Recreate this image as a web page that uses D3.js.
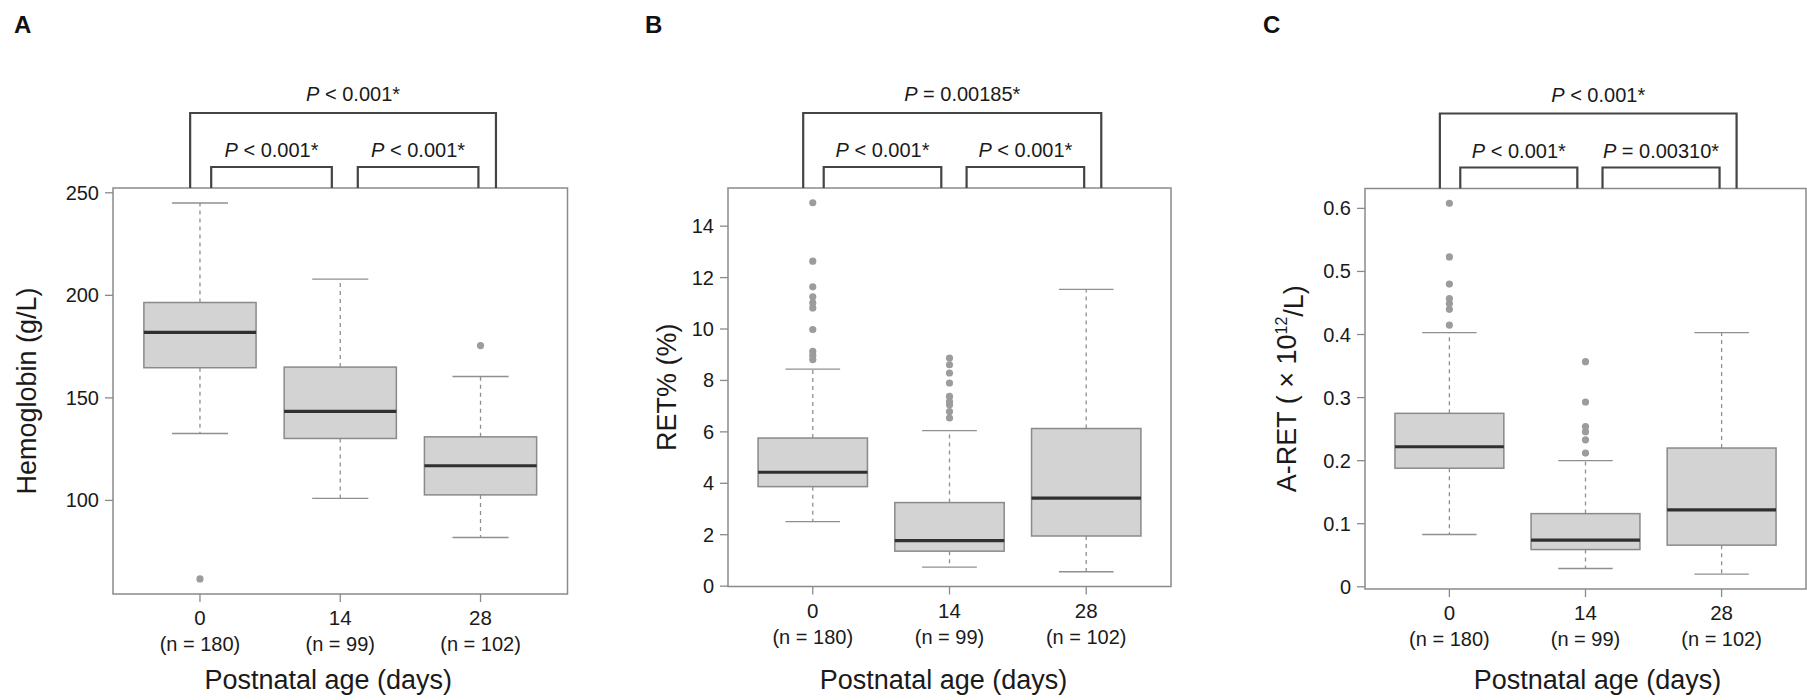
<!DOCTYPE html>
<html><head><meta charset="utf-8">
<script src="https://cdn.jsdelivr.net/npm/d3@7"></script>
<style>
body{margin:0;background:#fff}
text{font-family:"Liberation Sans",Arial,Helvetica,sans-serif;fill:#1a1a1a}
</style>
</head><body>
<svg id="chart" width="1807" height="700"></svg>
<script>
// ---------- data ----------
const categories = ["0", "14", "28"];
const nLabels = ["(n = 180)", "(n = 99)", "(n = 102)"];
const xTitle = "Postnatal age (days)";

// Panel A: Hemoglobin (g/L)
const hbWhiskerLow  = [132.6, 101.0, 81.9];
const hbQ1          = [164.7, 130.2, 102.7];
const hbMedian      = [181.9, 143.4, 116.9];
const hbQ3          = [196.5, 165.0, 131.0];
const hbWhiskerHigh = [245.0, 207.9, 160.4];
const hbOutliers    = [[61.7], [], [175.5]];
const hbTicks       = [100, 150, 200, 250];
const hbTickLabels  = ["100", "150", "200", "250"];
const hbPValues     = ["< 0.001*", "< 0.001*", "< 0.001*"]; // 0-14, 14-28, 0-28

// Panel B: RET% (%)
const retWhiskerLow  = [2.51, 0.74, 0.56];
const retQ1          = [3.87, 1.36, 1.95];
const retMedian      = [4.43, 1.77, 3.42];
const retQ3          = [5.76, 3.25, 6.13];
const retWhiskerHigh = [8.44, 6.05, 11.54];
const retOutliers    = [[14.91, 12.64, 11.64, 11.25, 11.02, 10.82, 9.98, 9.13, 8.97, 8.81],
                        [8.87, 8.61, 8.29, 7.90, 7.38, 7.18, 7.05, 6.79, 6.54],
                        []];
const retTicks       = [0, 2, 4, 6, 8, 10, 12, 14];
const retTickLabels  = ["0", "2", "4", "6", "8", "10", "12", "14"];
const retPValues     = ["< 0.001*", "< 0.001*", "= 0.00185*"];

// Panel C: A-RET (x10^12/L)
const aretWhiskerLow  = [0.083, 0.029, 0.020];
const aretQ1          = [0.188, 0.059, 0.066];
const aretMedian      = [0.222, 0.074, 0.122];
const aretQ3          = [0.275, 0.116, 0.220];
const aretWhiskerHigh = [0.403, 0.200, 0.403];
const aretOutliers    = [[0.608, 0.523, 0.480, 0.457, 0.449, 0.440, 0.415],
                         [0.357, 0.293, 0.254, 0.246, 0.233, 0.212],
                         []];
const aretTicks       = [0, 0.1, 0.2, 0.3, 0.4, 0.5, 0.6];
const aretTickLabels  = ["0", "0.1", "0.2", "0.3", "0.4", "0.5", "0.6"];
const aretPValues     = ["< 0.001*", "= 0.00310*", "< 0.001*"];

// ---------- layout ----------
const panels = [
  {letter: "A", lx: 14, rect: {l: 113, r: 567.5, t: 188, b: 594}, ylabX: 27, xlabDx: -12,
   ylab: [{t: "Hemoglobin (g/L)"}],
   wl: hbWhiskerLow, q1: hbQ1, med: hbMedian, q3: hbQ3, wh: hbWhiskerHigh, out: hbOutliers,
   ticks: hbTicks, tickLabels: hbTickLabels, p: hbPValues},
  {letter: "B", lx: 645, rect: {l: 728, r: 1171, t: 188, b: 586.5}, ylabX: 667, xlabDx: -6,
   ylab: [{t: "RET% (%)"}],
   wl: retWhiskerLow, q1: retQ1, med: retMedian, q3: retQ3, wh: retWhiskerHigh, out: retOutliers,
   ticks: retTicks, tickLabels: retTickLabels, p: retPValues},
  {letter: "C", lx: 1263, rect: {l: 1365, r: 1806, t: 188.5, b: 589}, ylabX: 1287, xlabDx: 12,
   ylab: [{t: "A-RET ( \u00d7 10"}, {t: "12", sup: true}, {t: "/L)"}],
   wl: aretWhiskerLow, q1: aretQ1, med: aretMedian, q3: aretQ3, wh: aretWhiskerHigh, out: aretOutliers,
   ticks: aretTicks, tickLabels: aretTickLabels, p: aretPValues}
];

const svg = d3.select("#chart");
const BORDER = "#8a8a8a", BOXSTROKE = "#8a8a8a", FILL = "#d3d3d3", MED = "#303030",
      WHISK = "#8f8f8f", OUT = "#9c9c9c", BRACKET = "#444";

panels.forEach(P => {
  const R = P.rect;
  const g = svg.append("g");
  // y domain: extent of all values, padded 4% like R
  const all = [].concat(P.wl, P.wh, ...P.out);
  const [mn, mx] = d3.extent(all);
  const pad = (mx - mn) * 0.04;
  const y = d3.scaleLinear().domain([mn - pad, mx + pad]).range([R.b, R.t]);
  const x = d3.scaleLinear().domain([0.38, 3.62]).range([R.l, R.r]);
  const pos = categories.map((c, i) => i + 1);
  const bw = 0.8, sw = 0.4;

  // panel letter
  g.append("text").attr("x", P.lx).attr("y", 33).attr("font-size", 24)
    .attr("font-weight", "bold").style("fill", "#111").text(P.letter);

  // whiskers (dashed) and staples
  pos.forEach((p, i) => {
    const cx = x(p);
    g.append("line").attr("x1", cx).attr("x2", cx).attr("y1", y(P.q3[i])).attr("y2", y(P.wh[i]))
      .attr("stroke", WHISK).attr("stroke-width", 1.3).attr("stroke-dasharray", "4,4");
    g.append("line").attr("x1", cx).attr("x2", cx).attr("y1", y(P.q1[i])).attr("y2", y(P.wl[i]))
      .attr("stroke", WHISK).attr("stroke-width", 1.3).attr("stroke-dasharray", "4,4");
    [P.wh[i], P.wl[i]].forEach(v => {
      g.append("line").attr("x1", x(p - sw / 2)).attr("x2", x(p + sw / 2))
        .attr("y1", y(v)).attr("y2", y(v)).attr("stroke", WHISK).attr("stroke-width", 1.4);
    });
    // box
    g.append("rect").attr("x", x(p - bw / 2)).attr("width", x(p + bw / 2) - x(p - bw / 2))
      .attr("y", y(P.q3[i])).attr("height", y(P.q1[i]) - y(P.q3[i]))
      .attr("fill", FILL).attr("stroke", BOXSTROKE).attr("stroke-width", 1.5);
    // median
    g.append("line").attr("x1", x(p - bw / 2)).attr("x2", x(p + bw / 2))
      .attr("y1", y(P.med[i])).attr("y2", y(P.med[i])).attr("stroke", MED).attr("stroke-width", 3.2);
    // outliers
    g.selectAll(null).data(P.out[i]).enter().append("circle")
      .attr("cx", cx).attr("cy", d => y(d)).attr("r", 3.6).attr("fill", OUT);
  });

  // plot border
  g.append("rect").attr("x", R.l).attr("y", R.t).attr("width", R.r - R.l).attr("height", R.b - R.t)
    .attr("fill", "none").attr("stroke", BORDER).attr("stroke-width", 1.5);

  // y axis ticks & labels
  P.ticks.forEach((t, i) => {
    g.append("line").attr("x1", R.l - 8).attr("x2", R.l).attr("y1", y(t)).attr("y2", y(t))
      .attr("stroke", BORDER).attr("stroke-width", 1.3);
    g.append("text").attr("x", R.l - 14).attr("y", y(t)).attr("dy", "0.35em")
      .attr("text-anchor", "end").attr("font-size", 20).text(P.tickLabels[i]);
  });

  // x axis ticks & labels
  pos.forEach((p, i) => {
    g.append("line").attr("x1", x(p)).attr("x2", x(p)).attr("y1", R.b).attr("y2", R.b + 8)
      .attr("stroke", BORDER).attr("stroke-width", 1.3);
    g.append("text").attr("x", x(p)).attr("y", R.b + 24).attr("dy", "0.35em")
      .attr("text-anchor", "middle").attr("font-size", 20.5).text(categories[i]);
    g.append("text").attr("x", x(p)).attr("y", R.b + 50).attr("dy", "0.35em")
      .attr("text-anchor", "middle").attr("font-size", 20).text(nLabels[i]);
  });

  // x title
  g.append("text").attr("x", x(2) + P.xlabDx).attr("y", 680).attr("dy", "0.35em")
    .attr("text-anchor", "middle").attr("font-size", 27).text(xTitle);

  // y title
  const yc = (R.t + R.b) / 2;
  const yt = g.append("text").attr("transform", `translate(${P.ylabX},${yc}) rotate(-90)`)
    .attr("text-anchor", "middle").attr("dy", "0.35em").attr("font-size", 27);
  P.ylab.forEach((s, k) => {
    const ts = yt.append("tspan").text(s.t);
    if (s.sup) ts.attr("font-size", 16).attr("dy", "-0.6em");
    else if (k > 0 && P.ylab[k - 1].sup) ts.attr("dy", "0.6em");
  });

  // significance brackets
  const brackets = [
    {a: 1 + 0.08, b: 2 - 0.06, top: R.t - 21, label: P.p[0], dx: 0, gap: 10},
    {a: 2 + 0.125, b: 3 - 0.015, top: R.t - 21, label: P.p[1], dx: 0, gap: 10},
    {a: 1 - 0.07, b: 3 + 0.11, top: R.t - 75, label: P.p[2], dx: 10, gap: 12}
  ];
  brackets.forEach(B => {
    const x1 = x(B.a), x2 = x(B.b);
    g.append("path").attr("d", `M${x1},${R.t}V${B.top}H${x2}V${R.t}`)
      .attr("fill", "none").attr("stroke", BRACKET).attr("stroke-width", 2.2);
    const tx = g.append("text").attr("x", (x1 + x2) / 2 + B.dx).attr("y", B.top - B.gap)
      .attr("text-anchor", "middle").attr("font-size", 20);
    tx.append("tspan").attr("font-style", "italic").text("P");
    tx.append("tspan").text(" " + B.label);
  });
});
</script>
</body></html>
